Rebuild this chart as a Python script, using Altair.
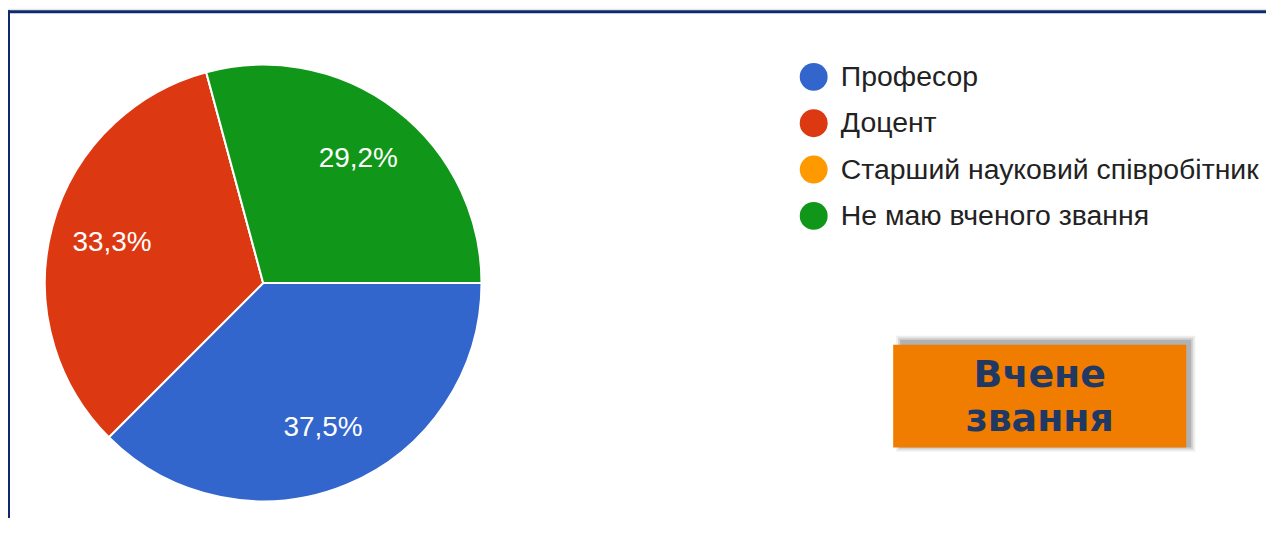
import math
import altair as alt
import pandas as pd

# ---- data ----
categories = ["Професор", "Доцент", "Старший науковий співробітник", "Не маю вченого звання"]
shares = [37.5, 33.3, 0.0, 29.2]
colors = ["#3366cc", "#dc3912", "#ff9900", "#109618"]
box_lines = ["Вчене", "звання"]

labels = [f"{v:.1f}".replace(".", ",") + "%" for v in shares]
df = pd.DataFrame({
    "cat": categories,
    "share": shares,
    "label": labels,
    "idx": list(range(len(categories))),
})
total = sum(shares)
one = pd.DataFrame({"a": [0]})

CX, CY = 256, 275
R = 219

theta_scale = alt.Scale(domain=[0, total], range=[math.pi / 2, math.pi / 2 + 2 * math.pi])
color_scale = alt.Scale(domain=categories, range=colors)

pie = alt.Chart(df).mark_arc(radius=R, stroke="white", strokeWidth=2).encode(
    theta=alt.Theta("share:Q", stack=True, scale=theta_scale),
    color=alt.Color(
        "cat:N", scale=color_scale, sort=categories,
        legend=alt.Legend(
            title=None, orient="none", legendX=794, legendY=54,
            symbolType="circle", symbolSize=784, symbolStrokeWidth=0,
            labelFont="Liberation Sans", labelFontSize=28.5, labelColor="#222222",
            labelLimit=700, labelOffset=13, rowPadding=17.5, padding=0,
        ),
    ),
    order=alt.Order("idx:Q"),
    x=alt.value(CX),
    y=alt.value(CY),
)

pct = alt.Chart(df).transform_filter("datum.share > 0").mark_text(
    radius=157, font="Liberation Sans", fontSize=28, color="white", align="center", baseline="middle"
).encode(
    theta=alt.Theta("share:Q", stack=True, scale=theta_scale),
    order=alt.Order("idx:Q"),
    text="label:N",
    x=alt.value(CX),
    y=alt.value(CY),
)

def rect(x1, x2, y1, y2, color, opacity=1.0):
    return alt.Chart(one).mark_rect(color=color, opacity=opacity).encode(
        x=alt.value(x1), x2=alt.value(x2), y=alt.value(y1), y2=alt.value(y2)
    )

frame = [
    rect(0, 1274, 0, 1.5, "#e6e6e6"),
    rect(0, 1274, 1.5, 4.5, "#0d2a6e"),
    rect(0, 2, 1.5, 540, "#0d2a6e"),
]

# orange title box with soft shadow
BX1, BX2, BY1, BY2 = 888, 1182, 337, 440
shadow = [
    rect(BX1 + 3, BX2 + 9, BY1 - 9, BY2 + 4, "#000000", 0.07),
    rect(BX1 + 5, BX2 + 7, BY1 - 7, BY2 + 2, "#000000", 0.11),
    rect(BX1 + 7, BX2 + 5, BY1 - 5, BY2, "#000000", 0.16),
]
box = rect(BX1, BX2, BY1, BY2, "#f07d00")
TX = (BX1 + BX2) / 2
txt1 = alt.Chart(one).mark_text(
    text=box_lines[0], font="DejaVu Sans", fontWeight="bold", fontSize=38, color="#203864",
    align="center", baseline="alphabetic"
).encode(x=alt.value(TX), y=alt.value(379))
txt2 = alt.Chart(one).mark_text(
    text=box_lines[1], font="DejaVu Sans", fontWeight="bold", fontSize=38, color="#203864",
    align="center", baseline="alphabetic"
).encode(x=alt.value(TX), y=alt.value(424))

chart = alt.layer(
    *frame, pie, pct, *shadow, box, txt1, txt2
).properties(
    width=1262, height=510, padding=0, background="white",
    autosize=alt.AutoSizeParams(type="none"),
).configure_view(strokeWidth=0)

chart.save("out.html", embed_options={"renderer": "svg", "actions": False})
